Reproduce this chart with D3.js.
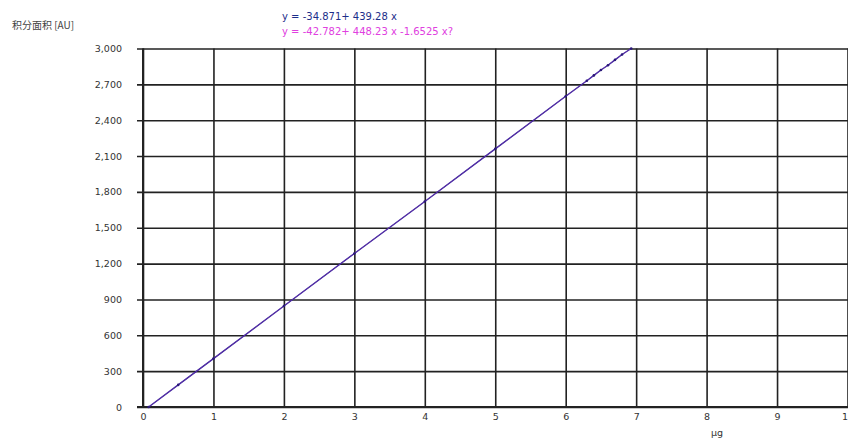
<!DOCTYPE html>
<html><head><meta charset="utf-8">
<script src="https://cdn.jsdelivr.net/npm/d3@7"></script>
<style>
body{margin:0;background:#fff;}
text{font-family:"DejaVu Sans",Verdana,sans-serif;}
</style></head>
<body><svg id="c" width="848" height="441"></svg>
<script>
const xTicks = [0,1,2,3,4,5,6,7,8,9,10];
const yTicks = [0,300,600,900,1200,1500,1800,2100,2400,2700,3000];
const pointsX = [0.08,0.5,1.0,2.0,3.0,4.0,5.0,6.0,6.3,6.4,6.5,6.6,6.7,6.8,6.93];
const pointsY = [0,185,405,845,1285,1720,2160,2600,2730,2775,2820,2860,2905,2950,3000];
const eqLinear = "y = -34.871+ 439.28 x";
const eqQuad = "y = -42.782+ 448.23 x -1.6525 x?";
const yLabel = "积分面积 [AU]";
const xLabel = "μg";

const svg = d3.select("#c");
const x = d3.scaleLinear().domain([0,10]).range([143,847.5]);
const y = d3.scaleLinear().domain([0,3000]).range([407,48.5]);

const gy = svg.append("g").attr("transform","translate(137,0)")
  .call(d3.axisLeft(y).tickValues(yTicks).tickSize(-711).tickPadding(15).tickFormat(d3.format(",")));
gy.select(".domain").remove();
gy.selectAll("line").attr("stroke","#222").attr("stroke-width",1.6);
gy.selectAll("text").attr("fill","#333").attr("font-size",9.5);

const gx = svg.append("g").attr("transform","translate(0,407)")
  .call(d3.axisBottom(x).tickValues(xTicks).tickSize(-358.5).tickSizeOuter(0).tickPadding(6).tickFormat(d3.format("d")));
gx.select(".domain").remove();
gx.selectAll("line").attr("stroke","#222").attr("stroke-width",1.6);
gx.selectAll("text").attr("fill","#333").attr("font-size",9.5);

svg.append("line").attr("x1",137).attr("x2",848).attr("y1",y(0)).attr("y2",y(0)).attr("stroke","#222").attr("stroke-width",2);
svg.append("line").attr("x1",x(0)).attr("x2",x(0)).attr("y1",y(3000)).attr("y2",y(0)).attr("stroke","#222").attr("stroke-width",2);

const pts = pointsX.map((v,i)=>[v,pointsY[i]]);
const line = d3.line().x(d=>x(d[0])).y(d=>y(d[1]));
svg.append("path").datum(pts).attr("d",line).attr("fill","none").attr("stroke","#2c1f96").attr("stroke-width",1.4);
svg.append("path").datum(pts).attr("d",line).attr("fill","none").attr("stroke","#b040c8").attr("stroke-width",0.8).attr("opacity",0.45);
svg.append("g").selectAll("circle").data(pts).join("circle")
  .attr("cx",d=>x(d[0])).attr("cy",d=>y(d[1])).attr("r",1.3).attr("fill","#2a1878");

svg.append("text").attr("x",12).attr("y",29).attr("font-size",10).attr("fill","#444")
  .style("font-family","'Noto Sans CJK SC','DejaVu Sans',sans-serif").text(yLabel);
svg.append("text").attr("x",282).attr("y",20).attr("font-size",10).attr("fill","#1c2e8a").text(eqLinear);
svg.append("text").attr("x",282).attr("y",35).attr("font-size",10).attr("fill","#e040e0").text(eqQuad);
svg.append("text").attr("x",717).attr("y",436).attr("font-size",9.5).attr("fill","#333").attr("text-anchor","middle").text(xLabel);
</script></body></html>
